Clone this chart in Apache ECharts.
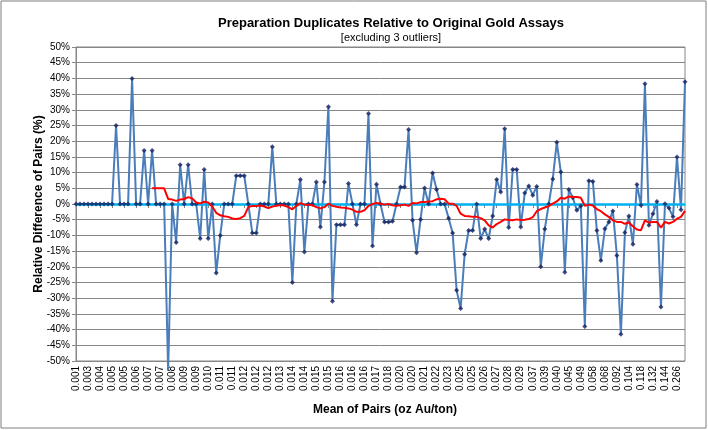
<!DOCTYPE html>
<html>
<head>
<meta charset="utf-8">
<script src="https://cdn.jsdelivr.net/npm/echarts@6/dist/echarts.min.js"></script>
<style>
  html, body { margin: 0; padding: 0; background: #fff; }
  #main { width: 708px; height: 430px; }
</style>
</head>
<body>
<div id="main"></div>
<script>
// x axis labels, one every third pair (as in the workbook)
var tickLabels = ['0.001','0.003','0.004','0.005','0.005','0.006','0.007','0.007','0.008','0.009',
    '0.009','0.010','0.011','0.011','0.012','0.012','0.012','0.013','0.014','0.014',
    '0.015','0.015','0.016','0.016','0.016','0.017','0.018','0.020','0.020','0.021',
    '0.022','0.023','0.025','0.025','0.026','0.027','0.028','0.029','0.037','0.039',
    '0.040','0.045','0.049','0.058','0.068','0.092','0.104','0.118','0.132','0.144','0.266'];
var labelStep = 3;

// relative difference of pairs (%)
var relDiff = [
    0, 0, 0, 0, 0, 0, 0, 0, 0, 0,
    25, 0, 0, 0, 40, 0, 0, 17, 0, 17,
    0, 0, 0, -53, 0, -12.3, 12.5, 0, 12.5, 0,
    0, -11, 11, -11, 0, -22, -10, 0, 0, 0,
    9, 9, 9, 0, -9.2, -9.2, 0, 0, 0, 18.2,
    0, 0, 0, 0, -25, 0, 7.8, -15.3, 0, 0,
    7, -7.3, 7, 31, -31, -6.6, -6.6, -6.6, 6.5, 0,
    -6.6, 0, 0, 28.8, -13.4, 6.3, 0, -5.7, -5.7, -5.5,
    0, 5.4, 5.4, 23.7, -5.2, -15.5, -4.9, 5.1, 0, 9.9,
    4.6, 0, 0, -4.5, -9.2, -27.5, -33.3, -16, -8.4, -8.4,
    0, -11, -8, -11, -3.8, 7.8, 3.8, 24, -7.5, 11,
    11, -7.3, 3.5, 5.7, 2.8, 5.6, -20, -8, 0, 8,
    19.7, 10.2, -21.7, 4.6, 2, -2, -0.6, -39, 7.4, 7.2,
    -8.4, -18, -7.9, -5.7, -2.2, -16.4, -41.5, -9.1, -3.8, -12.8,
    6.2, -0.4, 38.3, -6.8, -3.1, 0.8, -32.8, 0.1, -1.3, -4.1,
    15, -1.8, 38.9
];

// 20 per. moving average trendline
var maPeriod = 20;
var movingAvg = [
    5.0, 5.0, 5.0, 5.0, 1.6, 1.4, 1.0, 1.4, 1.6, 2.2, 1.8,
    0.5, 0.2, 0.7, 0.5, -0.8, -2.8, -3.6, -3.9, -4.1, -4.6,
    -4.8, -4.5, -3.8, -1.0, -0.6, -0.6, -0.5, -0.8, -1.3, -0.8,
    -0.6, -0.3, -0.5, -1.0, -1.7, -0.6, 0.3, -0.2, -0.2, -0.4,
    -1.0, -1.4, -1.0, 0.1, -0.6, -0.9, -1.1, -1.2, -1.4, -1.8,
    -2.5, -2.5, -2.0, -0.6, 0.0, 0.3, 0.1, -0.2, 0.0, -0.4,
    -0.6, -0.4, -0.2, -0.6, 0.3, 0.2, 0.6, 0.6, 0.8, 0.9,
    1.5, 1.7, 1.5, 0.1, 0.1, -0.6, -3.1, -3.8, -3.9, -4.1,
    -4.1, -4.5, -5.2, -6.8, -7.5, -6.4, -5.7, -4.9, -5.1, -5.2,
    -4.9, -5.1, -5.0, -4.8, -4.2, -2.3, -1.6, -1.1, -0.7, 0.1,
    0.8, 2.0, 1.7, 2.4, 2.2, 2.2, 2.0, -0.6, -0.2, -0.5,
    -1.6, -2.3, -3.3, -4.1, -5.2, -5.7, -5.7, -6.3, -5.9, -7.1,
    -8.1, -8.4, -5.2, -5.9, -5.7, -5.7, -7.5, -5.7, -6.2, -5.7,
    -4.7, -4.1, -2.2
];

var FONT = '"Liberation Sans", Arial, sans-serif';

// category list: label on every third pair, blanks between
var categories = relDiff.map(function (v, i) {
    return i % labelStep === 0 ? tickLabels[i / labelStep] : '';
});
var maData = [];
for (var k = 0; k < maPeriod - 1; k++) maData.push(null);
maData = maData.concat(movingAvg);

var myChart = echarts.init(document.getElementById('main'), null, {renderer: 'canvas'});

var option = {
    animation: false,
    backgroundColor: '#fff',
    textStyle: {fontFamily: FONT},
    grid: {
        left: 76, right: 23, top: 47, bottom: 69,
        show: true, borderColor: '#868686', borderWidth: 1
    },
    xAxis: {
        type: 'category',
        data: categories,
        boundaryGap: false,
        axisLine: {lineStyle: {color: '#868686', width: 1}},
        axisTick: {show: true, interval: labelStep - 1, length: 4, lineStyle: {color: '#868686'}},
        axisLabel: {
            interval: labelStep - 1, rotate: 90, margin: 5,
            fontSize: 10, color: '#000', fontFamily: FONT
        },
        splitLine: {show: false}
    },
    yAxis: {
        type: 'value',
        min: -50, max: 50, interval: 5,
        axisLine: {show: true, lineStyle: {color: '#868686', width: 1}},
        axisTick: {show: true, length: 4, lineStyle: {color: '#868686'}},
        axisLabel: {
            formatter: '{value}%', margin: 6,
            fontSize: 10, color: '#000', fontFamily: FONT
        },
        splitLine: {show: true, lineStyle: {color: '#868686', width: 1}}
    },
    graphic: [
        {type: 'rect', shape: {x: 1, y: 1, width: 705, height: 427},
            style: {fill: 'none', stroke: '#7f7f7f', lineWidth: 1}, silent: true},
        {type: 'text', x: 391, y: 23,
            style: {text: 'Preparation Duplicates Relative to Original Gold Assays',
                font: 'bold 13px ' + FONT, fill: '#000', textAlign: 'center', textVerticalAlign: 'middle'}},
        {type: 'text', x: 391, y: 38,
            style: {text: '[excluding 3 outliers]',
                font: '11px ' + FONT, fill: '#000', textAlign: 'center', textVerticalAlign: 'middle'}},
        {type: 'text', x: 39, y: 204, rotation: Math.PI / 2,
            style: {text: 'Relative Difference of Pairs (%)',
                font: 'bold 12px ' + FONT, fill: '#000', textAlign: 'center', textVerticalAlign: 'middle'}},
        {type: 'text', x: 385, y: 410,
            style: {text: 'Mean of Pairs (oz Au/ton)',
                font: 'bold 12px ' + FONT, fill: '#000', textAlign: 'center', textVerticalAlign: 'middle'}}
    ],
    series: [
        {
            // line joining the pairs
            type: 'line',
            data: relDiff,
            showSymbol: false,
            clip: false,
            z: 2,
            lineStyle: {color: '#4A7EBB', width: 2},
            markLine: {
                silent: true,
                symbol: 'none',
                z: 3,
                label: {show: false},
                lineStyle: {color: '#00B0F0', width: 2.5, type: 'solid'},
                data: [{yAxis: 0}]
            }
        },
        {
            // point markers
            type: 'scatter',
            data: relDiff,
            symbol: 'diamond',
            symbolSize: 5,
            clip: true,
            z: 4,
            itemStyle: {color: '#14215F'}
        },
        {
            // moving average trendline
            type: 'line',
            data: maData,
            showSymbol: false,
            z: 5,
            lineStyle: {color: '#FF0000', width: 2}
        }
    ]
};

myChart.setOption(option);
window.addEventListener('resize', function () {
    myChart.resize();
});
</script>
</body>
</html>
